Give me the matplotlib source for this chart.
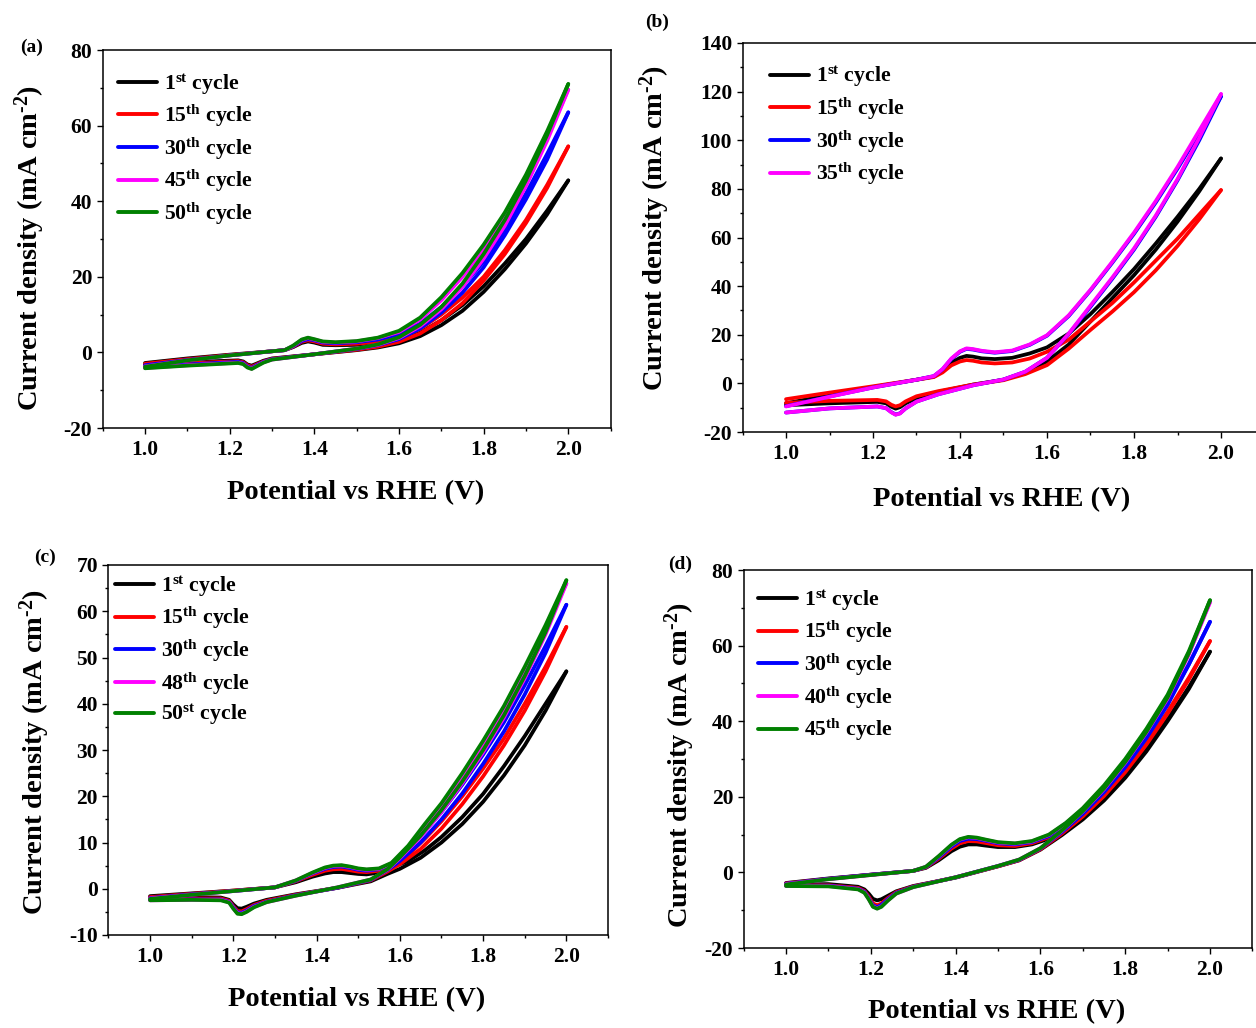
import numpy as np
import matplotlib
matplotlib.use('Agg')
import matplotlib.pyplot as plt
from matplotlib.ticker import AutoMinorLocator, MultipleLocator

plt.rcParams['font.family'] = ['Liberation Serif', 'DejaVu Serif']
plt.rcParams['font.weight'] = 'bold'
plt.rcParams['mathtext.fontset'] = 'custom'
plt.rcParams['mathtext.rm'] = 'Liberation Serif:bold'
plt.rcParams['mathtext.bf'] = 'Liberation Serif:bold'
plt.rcParams['mathtext.it'] = 'Liberation Serif:italic:bold'
plt.rcParams['mathtext.default'] = 'rm'
plt.rcParams['axes.unicode_minus'] = False

#-------------------------------------------------------------------------------
# panel (a)
labels_a = ['1$^{st}$ cycle', '15$^{th}$ cycle', '30$^{th}$ cycle', '45$^{th}$ cycle', '50$^{th}$ cycle']
colors_a = ['black', 'red', 'blue', 'magenta', 'green']
V_fwd_a = [1.0, 1.1, 1.2, 1.3, 1.33, 1.35, 1.37, 1.385, 1.40, 1.42, 1.45, 1.5, 1.55, 1.6, 1.65, 1.7, 1.75, 1.8, 1.85, 1.9, 1.95, 2.0]
fwd_a = [
    [-2.8, -1.6, -0.6, 0.3, 0.6, 1.4, 2.5, 2.9, 2.6, 2.0, 1.9, 2.0, 2.4, 3.2, 5.2, 8.5, 12.5, 17.5, 23.5, 30.0, 37.5, 45.5],
    [-3.0, -1.8, -0.7, 0.3, 0.6, 1.5, 2.8, 3.2, 2.9, 2.3, 2.1, 2.3, 2.8, 3.8, 6.2, 10.0, 14.5, 20.0, 27.0, 35.0, 44.3, 54.5],
    [-3.4, -2.0, -0.8, 0.3, 0.6, 1.6, 3.0, 3.5, 3.2, 2.6, 2.4, 2.7, 3.4, 4.8, 7.6, 12.0, 17.5, 24.0, 32.5, 42.0, 52.5, 63.5],
    [-3.7, -2.1, -0.8, 0.3, 0.6, 1.7, 3.3, 3.8, 3.4, 2.8, 2.6, 2.9, 3.8, 5.4, 8.7, 13.8, 20.0, 27.0, 35.5, 45.5, 57.0, 69.5],
    [-3.8, -2.1, -0.8, 0.3, 0.6, 1.8, 3.4, 3.9, 3.5, 2.9, 2.7, 3.0, 3.9, 5.7, 9.2, 14.6, 21.0, 28.5, 37.0, 47.0, 58.5, 71.0],
]
V_rev_a = [2.0, 1.95, 1.9, 1.85, 1.8, 1.75, 1.7, 1.65, 1.6, 1.55, 1.5, 1.4, 1.3, 1.28, 1.265, 1.252, 1.242, 1.232, 1.22, 1.1, 1.0]
rev_a = [
    [45.5, 36.5, 28.8, 22.0, 16.0, 11.0, 7.2, 4.3, 2.4, 1.3, 0.6, -0.5, -1.6, -2.2, -2.9, -3.5, -3.2, -2.4, -2.1, -2.6, -3.2],
    [54.5, 43.5, 34.2, 26.0, 19.0, 13.0, 8.5, 5.0, 2.8, 1.5, 0.7, -0.5, -1.7, -2.4, -3.1, -3.8, -3.4, -2.6, -2.3, -2.9, -3.5],
    [63.5, 51.0, 40.5, 31.0, 22.5, 15.8, 10.5, 6.3, 3.5, 1.9, 0.9, -0.5, -1.8, -2.5, -3.3, -4.1, -3.7, -2.8, -2.5, -3.2, -3.8],
    [69.5, 56.0, 44.0, 33.5, 24.8, 17.3, 11.4, 6.9, 3.8, 2.0, 1.0, -0.5, -1.9, -2.6, -3.5, -4.3, -3.9, -3.0, -2.7, -3.4, -4.1],
    [71.0, 57.5, 45.5, 35.0, 26.0, 18.2, 12.0, 7.3, 4.0, 2.1, 1.0, -0.5, -1.9, -2.7, -3.6, -4.4, -4.0, -3.1, -2.8, -3.5, -4.2],
]

# panel (b)
labels_b = ['1$^{st}$ cycle', '15$^{th}$ cycle', '30$^{th}$ cycle', '35$^{th}$ cycle']
colors_b = ['black', 'red', 'blue', 'magenta']
V_fwd_b = [1.0, 1.1, 1.2, 1.3, 1.34, 1.36, 1.38, 1.40, 1.415, 1.43, 1.45, 1.48, 1.52, 1.56, 1.6, 1.65, 1.7, 1.75, 1.8, 1.85, 1.9, 1.95, 2.0]
fwd_b = [
    [-8.2, -4.8, -1.5, 1.5, 2.8, 5.0, 8.5, 10.5, 11.3, 11.0, 10.3, 10.0, 10.5, 12.3, 14.8, 20.5, 28.5, 37.5, 47.0, 57.5, 68.5, 80.0, 92.5],
    [-6.5, -3.8, -1.2, 1.5, 2.6, 4.5, 7.4, 9.0, 9.6, 9.3, 8.6, 8.2, 8.6, 10.2, 13.0, 18.0, 25.5, 33.0, 41.5, 50.5, 59.5, 69.5, 79.5],
    [-9.4, -5.4, -1.7, 1.5, 3.0, 5.8, 10.0, 13.0, 14.2, 13.9, 13.2, 12.6, 13.3, 15.8, 19.6, 27.7, 38.2, 49.6, 61.5, 74.4, 88.3, 103.0, 118.0],
    [-9.5, -5.5, -1.7, 1.5, 3.0, 5.9, 10.2, 13.2, 14.4, 14.1, 13.4, 12.8, 13.5, 16.0, 19.8, 28.0, 38.5, 50.0, 62.0, 75.0, 89.0, 104.0, 119.0],
]
V_rev_b = [2.0, 1.95, 1.9, 1.85, 1.8, 1.75, 1.7, 1.65, 1.6, 1.55, 1.5, 1.43, 1.35, 1.3, 1.275, 1.262, 1.252, 1.242, 1.23, 1.21, 1.1, 1.0]
rev_b = [
    [92.5, 79.0, 66.5, 55.0, 44.5, 35.0, 25.5, 16.0, 9.0, 4.5, 1.5, -0.5, -3.5, -6.0, -8.2, -9.8, -10.4, -9.6, -8.2, -7.6, -8.2, -9.0],
    [79.5, 67.5, 56.5, 46.5, 37.5, 29.5, 22.0, 14.3, 7.5, 3.8, 1.3, -0.5, -3.2, -5.3, -7.4, -9.0, -9.5, -8.8, -7.4, -6.8, -7.2, -8.0],
    [118.0, 100.0, 83.5, 68.5, 55.0, 43.0, 31.5, 20.3, 10.5, 4.8, 1.6, -0.8, -4.5, -7.5, -10.3, -12.3, -12.8, -11.8, -10.2, -9.5, -10.3, -12.0],
    [119.0, 101.0, 84.0, 69.0, 55.5, 43.5, 32.0, 20.5, 10.5, 4.8, 1.6, -0.8, -4.5, -7.5, -10.3, -12.4, -12.9, -11.9, -10.2, -9.5, -10.3, -12.0],
]

# panel (c)
labels_c = ['1$^{st}$ cycle', '15$^{th}$ cycle', '30$^{th}$ cycle', '48$^{th}$ cycle', '50$^{st}$ cycle']
colors_c = ['black', 'red', 'blue', 'magenta', 'green']
V_fwd_c = [1.0, 1.1, 1.2, 1.3, 1.35, 1.39, 1.42, 1.44, 1.46, 1.48, 1.5, 1.52, 1.55, 1.58, 1.62, 1.66, 1.7, 1.75, 1.8, 1.85, 1.9, 1.95, 2.0]
fwd_c = [
    [-1.6, -1.0, -0.4, 0.3, 1.4, 2.6, 3.3, 3.6, 3.6, 3.4, 3.2, 3.1, 3.5, 4.6, 6.0, 8.3, 11.2, 15.5, 20.5, 26.5, 33.0, 40.0, 47.0],
    [-1.8, -1.1, -0.4, 0.3, 1.6, 3.0, 3.9, 4.2, 4.3, 4.0, 3.7, 3.6, 3.9, 5.0, 7.3, 10.8, 14.6, 20.0, 26.0, 32.5, 40.0, 48.0, 56.6],
    [-2.0, -1.2, -0.5, 0.3, 1.7, 3.3, 4.3, 4.7, 4.8, 4.5, 4.1, 3.9, 4.2, 5.3, 8.4, 12.4, 16.6, 22.5, 29.0, 36.0, 44.0, 52.5, 61.4],
    [-2.1, -1.3, -0.5, 0.3, 1.8, 3.4, 4.5, 4.9, 5.0, 4.7, 4.3, 4.1, 4.3, 5.5, 9.0, 13.6, 18.0, 24.5, 31.3, 38.8, 47.2, 56.3, 66.0],
    [-2.2, -1.3, -0.5, 0.3, 1.8, 3.5, 4.6, 5.0, 5.1, 4.8, 4.4, 4.2, 4.4, 5.6, 9.3, 14.0, 18.5, 25.0, 32.0, 39.5, 48.0, 57.0, 66.7],
]
V_rev_c = [2.0, 1.95, 1.9, 1.85, 1.8, 1.75, 1.7, 1.65, 1.6, 1.57, 1.53, 1.45, 1.35, 1.28, 1.25, 1.232, 1.22, 1.21, 1.2, 1.19, 1.17, 1.1, 1.0]
rev_c = [
    [47.0, 38.5, 31.0, 24.5, 18.8, 14.0, 10.0, 6.7, 4.3, 3.2, 1.6, 0.2, -1.2, -2.4, -3.2, -3.9, -4.3, -4.2, -3.4, -2.4, -1.9, -1.8, -2.0],
    [56.6, 47.0, 38.5, 31.0, 24.3, 18.3, 13.0, 8.6, 5.3, 3.7, 1.8, 0.2, -1.3, -2.6, -3.5, -4.4, -4.9, -4.8, -3.8, -2.6, -2.1, -2.1, -2.2],
    [61.4, 51.0, 42.0, 34.0, 27.0, 20.6, 15.0, 10.0, 6.0, 4.0, 1.9, 0.2, -1.4, -2.8, -3.7, -4.7, -5.2, -5.1, -4.0, -2.8, -2.3, -2.3, -2.4],
    [66.0, 55.0, 45.5, 37.0, 29.5, 22.8, 16.6, 11.2, 6.6, 4.1, 2.0, 0.3, -1.5, -2.9, -3.9, -4.9, -5.4, -5.3, -4.2, -2.9, -2.4, -2.4, -2.5],
    [66.7, 55.5, 46.0, 37.5, 30.0, 23.2, 17.0, 11.5, 6.8, 4.2, 2.0, 0.3, -1.5, -2.9, -4.0, -5.0, -5.5, -5.4, -4.3, -3.0, -2.5, -2.4, -2.5],
]

# panel (d)
labels_d = ['1$^{st}$ cycle', '15$^{th}$ cycle', '30$^{th}$ cycle', '40$^{th}$ cycle', '45$^{th}$ cycle']
colors_d = ['black', 'red', 'blue', 'magenta', 'green']
V_fwd_d = [1.0, 1.1, 1.2, 1.3, 1.33, 1.36, 1.39, 1.41, 1.43, 1.45, 1.47, 1.5, 1.54, 1.58, 1.62, 1.66, 1.7, 1.75, 1.8, 1.85, 1.9, 1.95, 2.0]
fwd_d = [
    [-2.8, -1.6, -0.6, 0.4, 1.2, 3.2, 5.6, 6.8, 7.4, 7.4, 7.1, 6.7, 6.7, 7.4, 8.9, 11.5, 14.5, 19.5, 25.5, 32.5, 40.5, 49.0, 58.4],
    [-2.9, -1.7, -0.6, 0.4, 1.3, 3.6, 6.3, 7.7, 8.3, 8.2, 7.8, 7.2, 7.0, 7.7, 9.3, 12.1, 15.4, 20.7, 27.0, 34.3, 42.5, 51.5, 61.2],
    [-3.0, -1.7, -0.6, 0.4, 1.4, 3.9, 6.8, 8.3, 8.9, 8.8, 8.4, 7.7, 7.4, 8.0, 9.6, 12.6, 16.2, 21.8, 28.5, 36.2, 45.0, 55.0, 66.3],
    [-3.1, -1.8, -0.7, 0.4, 1.5, 4.2, 7.2, 8.7, 9.3, 9.1, 8.6, 7.9, 7.6, 8.2, 9.9, 13.0, 16.8, 22.7, 29.6, 37.6, 46.5, 58.0, 71.5],
    [-3.2, -1.8, -0.7, 0.4, 1.5, 4.3, 7.3, 8.8, 9.4, 9.2, 8.7, 8.0, 7.7, 8.3, 10.0, 13.1, 17.0, 23.0, 30.0, 38.0, 47.0, 58.5, 72.0],
]
V_rev_d = [2.0, 1.95, 1.9, 1.85, 1.8, 1.75, 1.7, 1.65, 1.6, 1.55, 1.5, 1.4, 1.3, 1.26, 1.24, 1.225, 1.215, 1.205, 1.195, 1.185, 1.17, 1.1, 1.0]
rev_d = [
    [58.4, 48.5, 40.0, 32.0, 25.0, 19.0, 14.0, 9.8, 6.0, 3.2, 1.6, -1.4, -3.6, -5.0, -6.2, -7.1, -7.4, -7.0, -5.6, -4.5, -3.8, -3.1, -3.2],
    [61.2, 51.0, 42.0, 33.8, 26.5, 20.2, 14.8, 10.2, 6.1, 3.2, 1.6, -1.3, -3.7, -5.2, -6.8, -8.2, -8.7, -8.2, -6.4, -4.9, -4.1, -3.4, -3.4],
    [66.3, 55.0, 44.3, 35.5, 27.8, 21.2, 15.5, 10.6, 6.3, 3.3, 1.7, -1.3, -3.8, -5.4, -7.1, -8.6, -9.2, -8.7, -6.8, -5.1, -4.3, -3.5, -3.5],
    [71.5, 57.6, 46.0, 37.0, 29.0, 22.0, 16.1, 10.9, 6.4, 3.4, 1.7, -1.3, -3.9, -5.6, -7.4, -9.0, -9.5, -9.0, -7.0, -5.3, -4.4, -3.6, -3.6],
    [72.0, 58.0, 46.3, 37.2, 29.2, 22.2, 16.2, 11.0, 6.4, 3.4, 1.7, -1.3, -3.9, -5.6, -7.5, -9.1, -9.6, -9.1, -7.1, -5.4, -4.5, -3.7, -3.6],
]

W, H = 1256.0, 1028.0
fig = plt.figure(figsize=(12.56, 10.28), dpi=100)

def make_axes(l, r, t, b):
    return fig.add_axes([l/W, 1-b/H, (r-l)/W, (b-t)/H])

def draw(ax, Vf, fwd, Vr, rev, colors, labels, ylim, ystep, leg_xy):
    for k in range(len(colors)):
        ax.plot(Vf, fwd[k], color=colors[k], lw=2.7, label=labels[k],
                solid_capstyle='round', solid_joinstyle='round')
        ax.plot(Vr, rev[k], color=colors[k], lw=2.7,
                solid_capstyle='round', solid_joinstyle='round')
    ax.set_xlim(0.9, 2.1)
    ax.set_ylim(*ylim)
    ax.xaxis.set_minor_locator(AutoMinorLocator(2))
    ax.yaxis.set_major_locator(MultipleLocator(ystep))
    ax.yaxis.set_minor_locator(AutoMinorLocator(2))
    ax.set_xticks(np.arange(1.0, 2.01, 0.2))
    ax.set_xticklabels(['%.1f' % v for v in np.arange(1.0, 2.01, 0.2)])
    ax.tick_params(which='major', direction='out', length=4.5, width=1.0, labelsize=15.5, top=False, right=False)
    ax.tick_params(which='minor', direction='out', length=2.5, width=1.0, top=False, right=False)
    ax.tick_params(axis='x', pad=4)
    ax.tick_params(axis='y', pad=3)
    for s in ax.spines.values():
        s.set_linewidth(1.1)
    leg = ax.legend(loc='upper left', bbox_to_anchor=leg_xy, frameon=False, fontsize=15.7,
                    handlelength=1.8, handletextpad=0.3, labelspacing=0.28, borderpad=0, borderaxespad=0)
    for line in leg.get_lines():
        line.set_linewidth(2.8)

ax_a = make_axes(102.7, 610.6, 50, 428)
draw(ax_a, V_fwd_a, fwd_a, V_rev_a, rev_a, colors_a, labels_a, (-20, 80), 20, (0.03, 0.942))
ax_b = make_axes(742.5, 1264.5, 43, 432)
draw(ax_b, V_fwd_b, fwd_b, V_rev_b, rev_b, colors_b, labels_b, (-20, 140), 20, (0.053, 0.944))
ax_c = make_axes(108.4, 608.0, 565, 935)
draw(ax_c, V_fwd_c, fwd_c, V_rev_c, rev_c, colors_c, labels_c, (-10, 70), 10, (0.013, 0.975))
ax_d = make_axes(743.6, 1252.4, 570, 948)
draw(ax_d, V_fwd_d, fwd_d, V_rev_d, rev_d, colors_d, labels_d, (-20, 80), 20, (0.028, 0.952))

xlab = 'Potential vs RHE (V)'
ylab = 'Current density (mA cm$^{\u20102}$)'
for (x, y) in [(356, 493), (1002, 500), (357, 1000), (997, 1012)]:
    fig.text(x/W, 1-y/H, xlab, ha='center', va='center', fontsize=20.5, fontweight='bold')
for (x, y) in [(30, 248), (655, 228), (35, 752), (680, 765)]:
    fig.text(x/W, 1-y/H, ylab, ha='center', va='center', rotation=90, fontsize=20.5, fontweight='bold')
for (t, x, y) in [('(a)', 32, 47), ('(b)', 657, 22), ('(c)', 45, 557), ('(d)', 680, 564)]:
    fig.text(x/W, 1-y/H, t, ha='center', va='center', fontsize=14, fontweight='bold')

fig.savefig('out.png', dpi=100)
